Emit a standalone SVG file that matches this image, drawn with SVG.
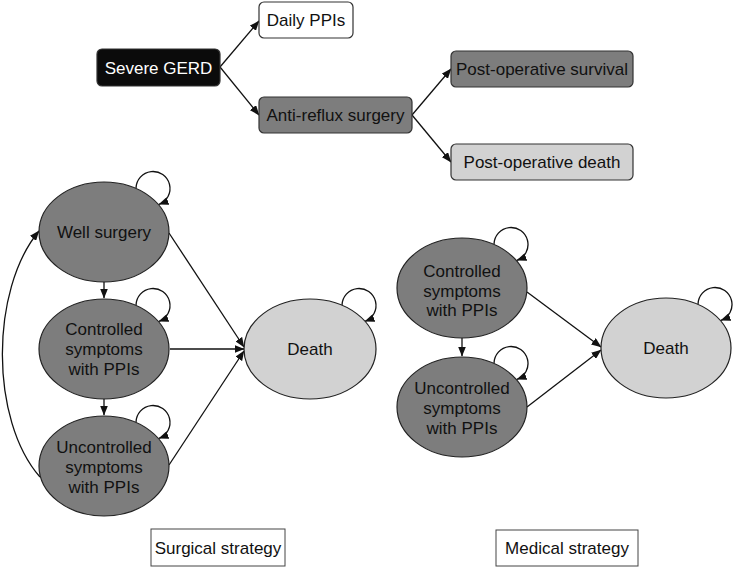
<svg xmlns="http://www.w3.org/2000/svg" width="733" height="567" viewBox="0 0 733 567">
<defs>
<marker id="ah" markerWidth="10" markerHeight="8" refX="9.5" refY="4" orient="auto" markerUnits="userSpaceOnUse"><path d="M0,0 L10,4 L0,8 z" fill="#111"/></marker>
<style>
text{font-family:"Liberation Sans",Arial,sans-serif;font-size:17px;fill:#111;text-anchor:middle}
.box{stroke:#333;stroke-width:1.2}
.ell{stroke:#222;stroke-width:1.2}
.dark{fill:#7d7d7d}
.light{fill:#d2d2d2}
.lab{fill:#fff;stroke:#444;stroke-width:1}
.c{fill:none;stroke:#111;stroke-width:1.3;marker-end:url(#ah)}
</style>
</defs>
<rect width="733" height="567" fill="#fff"/>

<g id="connectors">
<path class="c" d="M220 67 L259 21"/>
<path class="c" d="M220 67 L259 115"/>
<path class="c" d="M412 115 L451 69"/>
<path class="c" d="M412 115 L451 162"/>
<path class="c" d="M104 282 L104 298"/>
<path class="c" d="M104 399 L104 415"/>
<path class="c" d="M40 477 C -10 420, -10 290, 39 231"/>
<path class="c" d="M169 233 L244 347"/>
<path class="c" d="M170 349 L244 349"/>
<path class="c" d="M169 465 L244 351"/>
<path class="c" d="M136 188.3 A17 17 0 1 1 159 204.4"/>
<path class="c" d="M136 305.3 A17 17 0 1 1 159 321.4"/>
<path class="c" d="M136 422.3 A17 17 0 1 1 159 438.4"/>
<path class="c" d="M342 305.3 A17 17 0 1 1 365 321.4"/>
<path class="c" d="M462 338 L462 356"/>
<path class="c" d="M527 292 L601 347"/>
<path class="c" d="M527 407 L601 350"/>
<path class="c" d="M494 244.3 A17 17 0 1 1 517 260.4"/>
<path class="c" d="M494 363.3 A17 17 0 1 1 517 379.4"/>
<path class="c" d="M698 304.3 A17 17 0 1 1 721 320.4"/>
</g>

<g id="severe-gerd"><rect class="box" x="97" y="49" width="123" height="37" rx="5" fill="#0b0b0b"/><text x="158.5" y="73.5" style="fill:#fff">Severe GERD</text></g>
<g id="daily-ppis"><rect class="box" x="259" y="2" width="94" height="36" rx="5" fill="#fff"/><text x="306" y="26">Daily PPIs</text></g>
<g id="anti-reflux"><rect class="box dark" x="259" y="97" width="153" height="36" rx="5"/><text x="335.5" y="121">Anti-reflux surgery</text></g>
<g id="postop-survival"><rect class="box dark" x="451" y="51" width="182" height="36" rx="5"/><text x="542" y="75">Post-operative survival</text></g>
<g id="postop-death"><rect class="box light" x="451" y="144" width="182" height="36" rx="5"/><text x="542" y="168">Post-operative death</text></g>

<g id="s-well"><ellipse class="ell dark" cx="104" cy="232" rx="65" ry="50"/><text x="104" y="238">Well surgery</text></g>
<g id="s-controlled"><ellipse class="ell dark" cx="104" cy="349" rx="65" ry="50"/><text x="104" y="335">Controlled</text><text x="104" y="355">symptoms</text><text x="104" y="375">with PPIs</text></g>
<g id="s-uncontrolled"><ellipse class="ell dark" cx="104" cy="466" rx="65" ry="50"/><text x="104" y="453">Uncontrolled</text><text x="104" y="473">symptoms</text><text x="104" y="493">with PPIs</text></g>
<g id="s-death"><ellipse class="ell light" cx="310" cy="349" rx="66" ry="50"/><text x="310" y="355">Death</text></g>

<g id="m-controlled"><ellipse class="ell dark" cx="462" cy="288" rx="65" ry="50"/><text x="462" y="277">Controlled</text><text x="462" y="296.5">symptoms</text><text x="462" y="316">with PPIs</text></g>
<g id="m-uncontrolled"><ellipse class="ell dark" cx="462" cy="407" rx="65" ry="50"/><text x="462" y="394">Uncontrolled</text><text x="462" y="414">symptoms</text><text x="462" y="434">with PPIs</text></g>
<g id="m-death"><ellipse class="ell light" cx="666" cy="348" rx="65" ry="50"/><text x="666" y="354">Death</text></g>

<g id="surgical-strategy"><rect class="lab" x="151" y="529" width="134" height="37"/><text x="218" y="554">Surgical strategy</text></g>
<g id="medical-strategy"><rect class="lab" x="496" y="530" width="142" height="36"/><text x="567" y="554">Medical strategy</text></g>
</svg>
